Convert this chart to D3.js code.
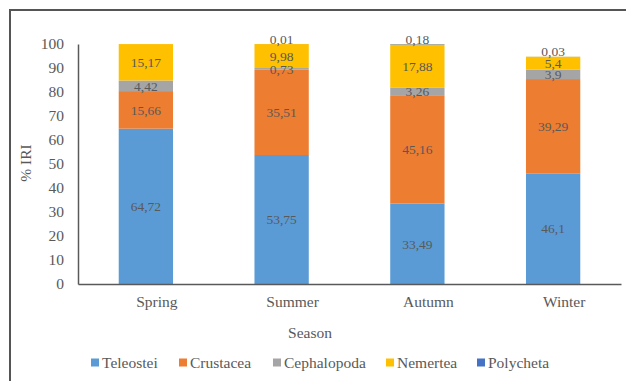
<!DOCTYPE html>
<html>
<head>
<meta charset="utf-8">
<script src="https://cdn.jsdelivr.net/npm/d3@7"></script>
<style>
  html, body { margin: 0; padding: 0; background: #fff; }
</style>
</head>
<body>
<svg id="chart" width="626" height="381"></svg>
<script>
// Seasonal diet composition (% IRI) by prey group
const seasons = ["Spring", "Summer", "Autumn", "Winter"];
const groups = ["Teleostei", "Crustacea", "Cephalopoda", "Nemertea", "Polycheta"];
const teleostei = [64.72, 53.75, 33.49, 46.1];
const crustacea = [15.66, 35.51, 45.16, 39.29];
const cephalopoda = [4.42, 0.73, 3.26, 3.9];
const nemertea = [15.17, 9.98, 17.88, 5.4];
const polycheta = [0, 0.01, 0.18, 0.03];
const yTicks = [0, 10, 20, 30, 40, 50, 60, 70, 80, 90, 100];
const colors = ["#5B9BD5", "#ED7D31", "#A5A5A5", "#FFC000", "#4472C4"];

const FONT = "'Liberation Serif', 'Times New Roman', Times, serif";
const TEXT = "#595959";
const SIZE = "15.5px";

const seriesValues = [teleostei, crustacea, cephalopoda, nemertea, polycheta];
const rows = seasons.map((s, i) => {
  const r = { season: s };
  groups.forEach((g, k) => { r[g] = seriesValues[k][i]; });
  return r;
});

const svg = d3.select("#chart");
const plot = { left: 78, right: 621, top: 44, bottom: 284 };

// outer frame (left and top edges)
svg.append("path")
  .attr("d", `M10,381 V10 H626`)
  .attr("fill", "none")
  .attr("stroke", "#555")
  .attr("stroke-width", 2);

const x = d3.scaleBand().domain(seasons)
  .range([plot.left, plot.right])
  .paddingInner(0.6).paddingOuter(0.3);
const y = d3.scaleLinear().domain([0, 100]).range([plot.bottom, plot.top]);
const color = d3.scaleOrdinal().domain(groups).range(colors);

const stacked = d3.stack().keys(groups)(rows);

// bars
const layers = svg.append("g").selectAll("g")
  .data(stacked).join("g")
  .attr("fill", d => color(d.key));
layers.selectAll("rect")
  .data(d => d.map(v => ({ key: d.key, v })))
  .join("rect")
  .attr("x", d => x(d.v.data.season))
  .attr("width", x.bandwidth())
  .attr("y", d => y(d.v[1]))
  .attr("height", d => Math.max(0, y(d.v[0]) - y(d.v[1])));

// data labels
const fmt = v => String(v).replace(".", ",");
const labels = svg.append("g").attr("text-anchor", "middle");
stacked.forEach(layer => {
  layer.forEach(v => {
    const val = v.data[layer.key];
    if (!val) return;
    const shift = layer.key === "Polycheta" ? -5 : 0;
    labels.append("text")
      .attr("x", x(v.data.season) + x.bandwidth() / 2)
      .attr("y", (y(v[0]) + y(v[1])) / 2 + shift)
      .attr("dy", "0.35em")
      .style("font-family", FONT)
      .style("font-size", "13.5px")
      .style("fill", TEXT)
      .text(fmt(val));
  });
});

// y axis
const yAxis = d3.axisLeft(y).tickValues(yTicks).tickSize(0).tickPadding(14);
const gy = svg.append("g")
  .attr("transform", `translate(${plot.left},0)`)
  .call(yAxis);
gy.select(".domain").attr("stroke", TEXT).attr("stroke-width", 1.5);
gy.selectAll("text")
  .style("font-family", FONT)
  .style("font-size", SIZE)
  .style("fill", TEXT);

// x axis (category labels sit slightly right of the bar centres)
const xAxis = d3.axisBottom(x).tickSize(0).tickPadding(12);
const gx = svg.append("g")
  .attr("transform", `translate(0,${plot.bottom})`)
  .call(xAxis);
gx.select(".domain").attr("stroke", TEXT).attr("stroke-width", 1.5);
gx.selectAll("text")
  .attr("x", 11)
  .style("font-family", FONT)
  .style("font-size", SIZE)
  .style("fill", TEXT);

// axis titles
svg.append("text")
  .attr("transform", "translate(26,163) rotate(-90)")
  .attr("text-anchor", "middle")
  .attr("dy", "0.35em")
  .style("font-family", FONT)
  .style("font-size", SIZE)
  .style("fill", TEXT)
  .text("% IRI");
svg.append("text")
  .attr("x", 310).attr("y", 333)
  .attr("text-anchor", "middle")
  .attr("dy", "0.35em")
  .style("font-family", FONT)
  .style("font-size", SIZE)
  .style("fill", TEXT)
  .text("Season");

// legend
const legendX = [91, 179, 273, 386, 477];
const legend = svg.append("g");
groups.forEach((g, i) => {
  const item = legend.append("g").attr("transform", `translate(${legendX[i]},363)`);
  item.append("rect")
    .attr("x", 0).attr("y", -4.5)
    .attr("width", 8).attr("height", 8)
    .attr("fill", color(g));
  item.append("text")
    .attr("x", 11).attr("dy", "0.35em")
    .style("font-family", FONT)
    .style("font-size", SIZE)
    .style("fill", TEXT)
    .text(g);
});
</script>
</body>
</html>
